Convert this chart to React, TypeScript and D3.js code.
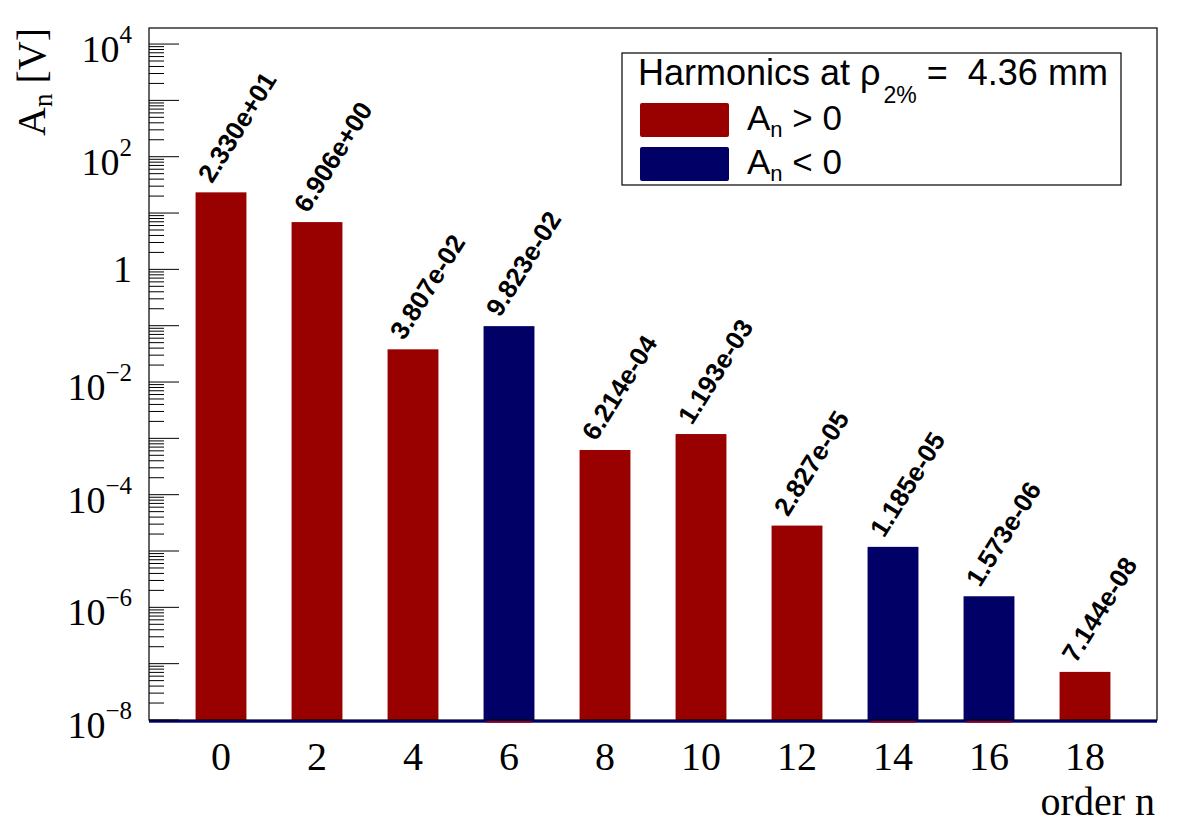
import { useEffect, useRef } from "react";
import * as d3 from "d3";

const RED  = "#990000";
const BLUE = "#000066";

// harmonic order n and signed amplitude A_n [V]
const ORDERS     = [0, 2, 4, 6, 8, 10, 12, 14, 16, 18];
const AMPLITUDES = [2.330e+01, 6.906e+00, 3.807e-02, -9.823e-02, 6.214e-04, 1.193e-03, 2.827e-05, -1.185e-05, -1.573e-06, 7.144e-08];
const Y_LABEL_EXPONENTS = [-8, -6, -4, -2, 0, 2, 4];
const LEGEND_RELATIONS  = [">", "<"];

const SERIF = "'Liberation Serif', 'Times New Roman', serif";
const SANS  = "'Liberation Sans', Arial, Helvetica, sans-serif";

// 2.330e+01 style (ROOT prints two exponent digits)
const fmt = (v: number) => {
  const [m, e] = Math.abs(v).toExponential(3).split("e");
  return `${m}e${e[0]}${e.slice(1).padStart(2, "0")}`;
};

export default function App() {
  const ref = useRef<SVGSVGElement>(null);

  useEffect(() => {
    if (!ref.current) return;
    document.body.style.margin = "0";
    const W = 1198, H = 825;
    const L = 149, R = 1157, T = 28, B = 720;

    const svg = d3.select(ref.current).attr("width", W).attr("height", H);
    svg.selectAll("*").remove();
    svg.append("rect").attr("width", W).attr("height", H).attr("fill", "#fff");

    const x = d3.scaleLinear().domain([-1.5, 19.5]).range([L, R]);
    const y = d3.scaleLog().domain([1e-8, Math.pow(10, 4.285)]).range([B, T]);
    const data = ORDERS.map((n, i) => ({ n, v: AMPLITUDES[i] }));
    const half = 0.53;

    // Bars
    svg.selectAll("rect.bar")
      .data(data)
      .enter().append("rect")
      .attr("class", "bar")
      .attr("x", d => x(d.n - half))
      .attr("width", d => x(d.n + half) - x(d.n - half))
      .attr("y", d => y(Math.abs(d.v)))
      .attr("height", d => B - y(Math.abs(d.v)))
      .attr("fill", d => d.v > 0 ? RED : BLUE);

    // Frame
    svg.append("rect")
      .attr("x", L).attr("y", T).attr("width", R - L).attr("height", B - T)
      .attr("fill", "none").attr("stroke", "#000").attr("stroke-width", 1.2);

    // baseline of the histogram, with the empty red bins peeking below
    svg.append("rect").attr("x", L).attr("y", B).attr("width", R - L).attr("height", 2.7).attr("fill", BLUE);
    svg.selectAll("rect.zero")
      .data(data.filter(d => d.v < 0))
      .enter().append("rect")
      .attr("class", "zero")
      .attr("x", d => x(d.n - 0.47))
      .attr("width", d => x(d.n + 0.47) - x(d.n - 0.47))
      .attr("y", B + 1).attr("height", 1.7)
      .attr("fill", RED);

    // Y ticks (log: long at decades, short at 2..9)
    const ticks = y.ticks(200);
    svg.append("g").selectAll("line")
      .data(ticks)
      .enter().append("line")
      .attr("x1", L).attr("x2", d => Number.isInteger(Math.round(Math.log10(d) * 1e6) / 1e6) ? L + 30 : L + 15)
      .attr("y1", d => y(d)).attr("y2", d => y(d))
      .attr("stroke", "#000").attr("stroke-width", 1);

    // Y labels
    const yl = svg.append("g").attr("font-family", SERIF).attr("fill", "#000");
    Y_LABEL_EXPONENTS.forEach(k => {
      const t = yl.append("text")
        .attr("x", 132)
        .attr("y", y(Math.pow(10, k)) + (k === 0 ? 13 : 18))
        .attr("text-anchor", "end")
        .attr("font-size", 38);
      if (k === 0) { t.text("1"); return; }
      t.append("tspan").text("10");
      t.append("tspan").attr("font-size", 25).attr("dy", -19)
        .text(k < 0 ? `\u2212${-k}` : `${k}`);
    });

    // X labels
    svg.append("g").selectAll("text")
      .data(ORDERS)
      .enter().append("text")
      .attr("x", d => x(d)).attr("y", 770)
      .attr("text-anchor", "middle")
      .attr("font-family", SERIF).attr("font-size", 40)
      .text(d => d);

    // Axis titles
    svg.append("text")
      .attr("x", 1155).attr("y", 815).attr("text-anchor", "end")
      .attr("font-family", SERIF).attr("font-size", 40)
      .text("order n");

    const yt = svg.append("text")
      .attr("transform", `translate(45,${T}) rotate(-90)`)
      .attr("text-anchor", "end")
      .attr("font-family", SERIF).attr("font-size", 40)
      .style("white-space", "pre");
    yt.append("tspan").text("A");
    yt.append("tspan").attr("font-size", 27).attr("dy", 7).text("n");
    yt.append("tspan").attr("dy", -7).text(" [V]");

    // Value labels
    svg.append("g").selectAll("text")
      .data(data)
      .enter().append("text")
      .attr("transform", d => `translate(${x(d.n) - 9},${y(Math.abs(d.v)) - 8}) rotate(-58)`)
      .attr("font-family", SANS).attr("font-weight", "bold").attr("font-size", 26)
      .text(d => fmt(d.v));

    // Legend
    const lg = svg.append("g");
    lg.append("rect")
      .attr("x", 622).attr("y", 53).attr("width", 499).attr("height", 132)
      .attr("fill", "#fff").attr("stroke", "#000").attr("stroke-width", 1.2);

    const title = lg.append("text")
      .attr("x", 638).attr("y", 85)
      .attr("font-family", SANS).attr("font-size", 36)
      .style("white-space", "pre");
    title.append("tspan").text("Harmonics at \u03C1");
    title.append("tspan").attr("font-size", 23).attr("dy", 18).attr("dx", 3).text("2%");
    title.append("tspan").attr("dy", -18).text(" =  4.36 mm");

    LEGEND_RELATIONS.forEach((rel, i) => {
      const top = 103 + i * 44;
      lg.append("rect")
        .attr("x", 640).attr("y", top).attr("width", 89).attr("height", 34).attr("rx", 2)
        .attr("fill", i === 0 ? RED : BLUE);
      const t = lg.append("text")
        .attr("x", 747).attr("y", top + 27)
        .attr("font-family", SANS).attr("font-size", 35)
        .style("white-space", "pre");
      t.append("tspan").text("A");
      t.append("tspan").attr("font-size", 22).attr("dy", 7).text("n");
      t.append("tspan").attr("dy", -7).text(` ${rel} 0`);
    });
  }, []);

  return <svg ref={ref} style={{ display: "block" }} />;
}
